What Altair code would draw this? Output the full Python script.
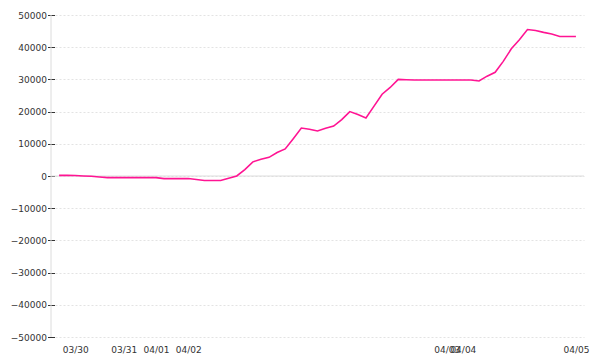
import altair as alt
import pandas as pd

# Series: one value per time step (index 0..64)
values = [
    200, 200, 150, 0, -100, -300, -500, -500, -500, -500,
    -500, -500, -500, -800, -800, -800, -800, -1100, -1400, -1400,
    -1400, -700, 0, 2000, 4400, 5200, 5800, 7300, 8400, 11600,
    14900, 14500, 14000, 14800, 15500, 17500, 20000, 19100, 18000, 21700,
    25400, 27500, 30000, 29900, 29800, 29800, 29800, 29800, 29800, 29800,
    29800, 29800, 29500, 31000, 32200, 35600, 39500, 42300, 45500, 45200,
    44600, 44100, 43300, 43300, 43300,
]
steps = list(range(len(values)))

tick_positions = [2, 8, 12, 16, 48, 50, 64]
tick_labels = ["03/30", "03/31", "04/01", "04/02", "04/03", "04/04", "04/05"]
y_ticks = [-50000, -40000, -30000, -20000, -10000, 0, 10000, 20000, 30000, 40000, 50000]

df = pd.DataFrame({"i": steps, "v": values})

label_expr = ""
for p, l in zip(tick_positions, tick_labels):
    label_expr += f"datum.value == {p} ? '{l}' : "
label_expr += "''"

FONT = "DejaVu Sans"
W, H = 533, 322

x_axis = alt.Axis(
    values=tick_positions, labelExpr=label_expr, ticks=False, domain=False,
    grid=False, labelPadding=8, labelOverlap=False, labelFlush=False,
    labelBound=False, labelFont=FONT, labelFontSize=9, labelColor="#333",
    title=None,
)
y_axis = alt.Axis(
    values=y_ticks, format="d", domain=False, tickSize=7, tickColor="#333",
    offset=-3.5, labelPadding=1, grid=True, gridColor="#e3e3e3",
    gridDash=[2, 2], labelFont=FONT, labelFontSize=9, labelColor="#333",
    labelOverlap=False, labelFlush=False, labelBound=False,
    title=None,
)
x_scale = alt.Scale(domain=[-1, 65], nice=False, zero=False)
y_scale = alt.Scale(domain=[-50000, 50000], nice=False)

line = alt.Chart(df).mark_line(color="#ff1493", strokeWidth=1.6).encode(
    x=alt.X("i:Q", scale=x_scale, axis=x_axis),
    y=alt.Y("v:Q", scale=y_scale, axis=y_axis),
)

zero_rule = alt.Chart(pd.DataFrame({"v": [0]})).mark_rule(color="#dcdcdc", strokeWidth=1).encode(
    y=alt.Y("v:Q", scale=y_scale, axis=y_axis), x=alt.value(0), x2=alt.value(W)
)
v_rule = alt.Chart(pd.DataFrame({"v": [0]})).mark_rule(color="#dcdcdc", strokeWidth=1).encode(
    x=alt.value(0), y=alt.value(0), y2=alt.value(H)
)

chart = alt.layer(zero_rule, v_rule, line).properties(
    width=W, height=H,
    autosize=alt.AutoSizeParams(type="none"),
    padding={"left": 51, "top": 15, "right": 16, "bottom": 23},
    background="white",
).configure_view(stroke=None)

chart.save("out.html", embed_options={"renderer": "svg", "actions": False})
